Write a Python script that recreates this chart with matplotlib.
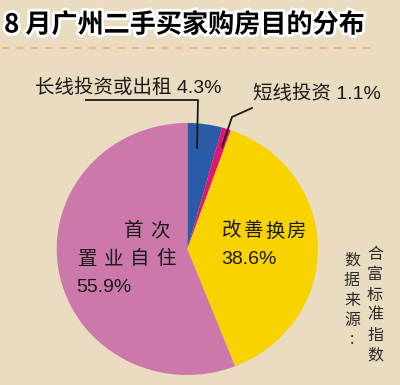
import matplotlib
matplotlib.use("Agg")
import matplotlib.pyplot as plt
import matplotlib.patheffects as pe

# ---- data ----
categories = ["长线投资或出租", "短线投资", "改善换房", "首次置业自住"]
shares = [4.3, 1.1, 38.6, 55.9]
colors = ["#2A5BA8", "#E2166E", "#F8D300", "#CC78AA"]
title = "8 月广州二手买家购房目的分布"
source_cols = ["合富标准指数", "数据来源:"]

W, H = 400, 385
BG = "#EADCC1"

plt.rcParams['font.family'] = ['Liberation Sans', 'Noto Sans CJK SC', 'DejaVu Sans']

fig = plt.figure(figsize=(W / 100, H / 100), dpi=100)
fig.patch.set_facecolor(BG)

# pie axes (pixel bbox of the pie: x 56.7-318, y 123-375)
px0, px1, py0, py1 = 56.7, 318.0, 123.0, 375.0
axp = fig.add_axes([px0 / W, (H - py1) / H, (px1 - px0) / W, (py1 - py0) / H])
axp.pie(shares, colors=colors, startangle=90, counterclock=False, radius=1,
        wedgeprops=dict(linewidth=0))
axp.set_xlim(-1, 1)
axp.set_ylim(-1, 1)
axp.set_aspect('auto')
axp.axis('off')

# overlay axes in pixel coordinates
ax = fig.add_axes([0, 0, 1, 1], zorder=5)
ax.set_xlim(0, W)
ax.set_ylim(H, 0)
ax.axis('off')
ax.patch.set_alpha(0)

# title
ax.text(4, 25, title, fontsize=18.8, fontweight='heavy', color='black',
        family=['Noto Sans CJK SC'], va='center', ha='left',
        path_effects=[pe.withStroke(linewidth=4, foreground='white')])
ax.plot([2, 372], [48, 48], color='#F2B072', lw=1.3, ls=(0, (4, 4)))

lab_fs = 14
ink = '#1a1a1a'
# label 1: long-term
ax.text(35, 88, f"{categories[0]} {shares[0]}%", fontsize=lab_fs, color=ink,
        va='center', ha='left')
ax.plot([86, 198, 197], [100, 100, 148], color=ink, lw=1.3)
# label 2: short-term
ax.text(253, 94, f"{categories[1]} {shares[1]}%", fontsize=lab_fs, color=ink,
        va='center', ha='left')
ax.plot([252, 232, 222], [108, 117, 147], color=ink, lw=1.3)

# label 3: inside yellow
def spaced(chars, x0, y, step, ha='center'):
    for i, c in enumerate(chars):
        ax.text(x0 + i * step, y, c, fontsize=lab_fs, color=ink, va='center', ha=ha,
                family=['Noto Sans CJK SC'])

spaced(categories[2], 232, 231, 21.5)
ax.text(221, 259, f"{shares[2]}%", fontsize=lab_fs, color=ink, va='center', ha='left')

# label 4: inside pink
c4 = categories[3]
spaced(c4[:2], 134, 231, 26)
spaced(c4[2:], 88, 259, 26)
ax.text(76, 287, f"{shares[3]}%", fontsize=lab_fs, color=ink, va='center', ha='left')

# source (vertical columns)
src_fs = 11.5
for ci, (col, xc, y0) in enumerate(zip(source_cols, [375, 352], [255, 260])):
    for i, c in enumerate(col):
        ax.text(xc, y0 + i * 20, c, fontsize=src_fs, color='#2a2a2a', va='center',
                ha='center', family=['Noto Sans CJK SC'])

fig.savefig("out.png", dpi=100, facecolor=BG)
